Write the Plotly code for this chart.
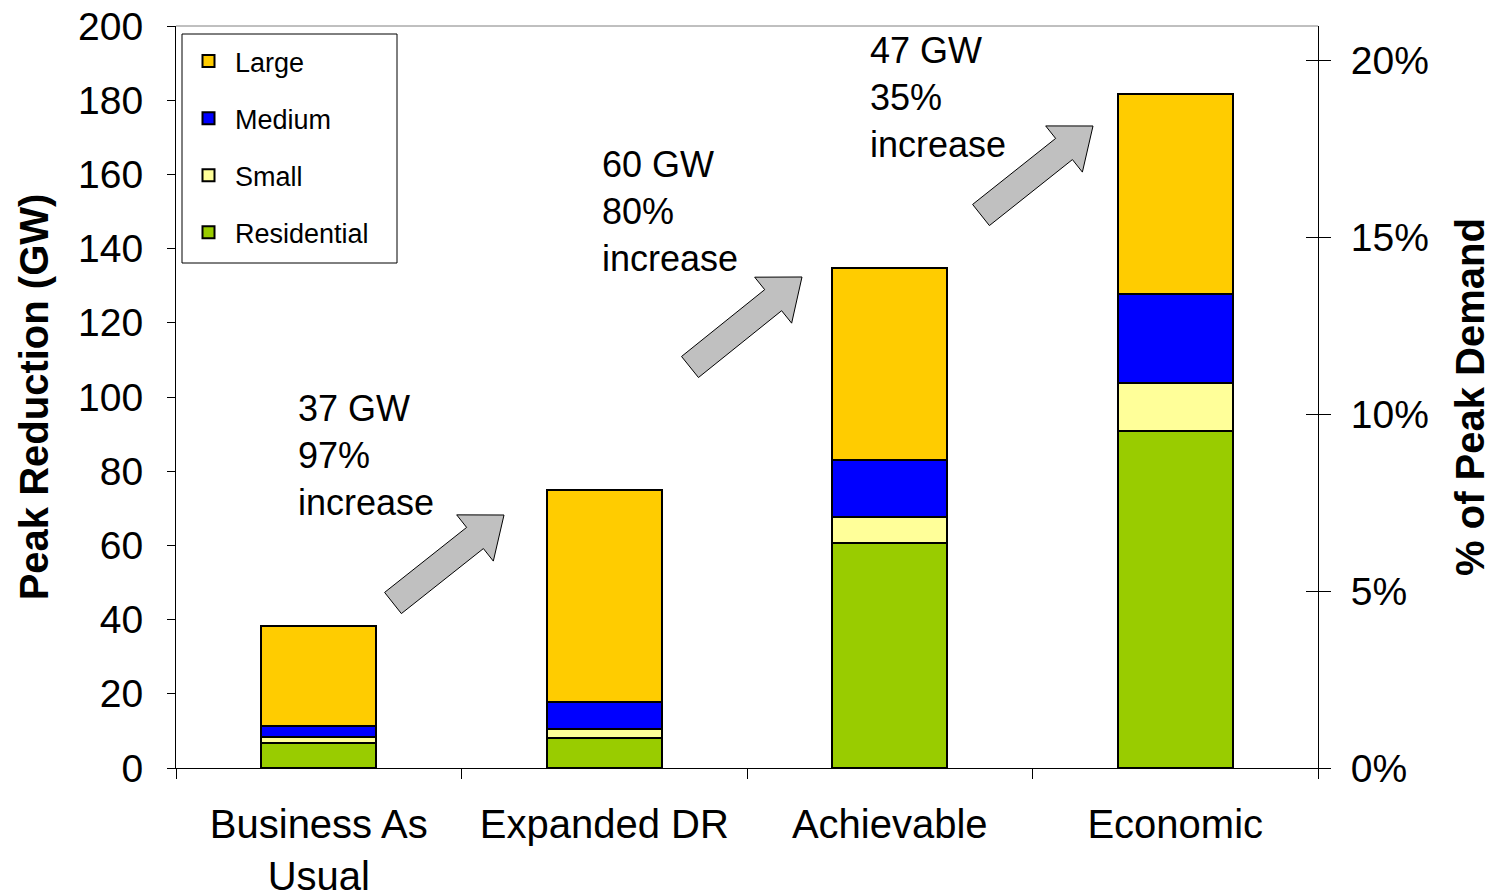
import math
import plotly.graph_objects as go

# Demand-response scenarios and their peak reduction (GW) by customer class
scenarios = ["Business As<br>Usual", "Expanded DR", "Achievable", "Economic"]
residential = [6.7, 8.0, 60.6, 90.8]
small = [1.7, 2.5, 7.1, 13.0]
medium = [2.9, 7.3, 15.3, 24.0]
large = [27.0, 57.1, 51.8, 53.9]

# Step annotations between successive scenarios
step_labels = ["37 GW<br>97%<br>increase", "60 GW<br>80%<br>increase", "47 GW<br>35%<br>increase"]

# National peak demand used for the secondary (%) axis
peak_demand_gw = 954.0
gw_max = 200
pct_ticks = [0, 5, 10, 15, 20]
pct_labels = ["0%", "5%", "10%", "15%", "20%"]

colors = {
    "Residential": "#99CC00",
    "Small": "#FFFF99",
    "Medium": "#0000FF",
    "Large": "#FFCC00",
}
# legend lists the largest class first
legend_rank = {"Large": 1, "Medium": 2, "Small": 3, "Residential": 4}

W, H = 1495, 894
L, R, T, B = 176, 1318, 26, 768  # plot area in pixels


def to_paper(px, py):
    return (px - L) / (R - L), (B - py) / (B - T)


def block_arrow(tail, tip, shaft_w=27, head_w=59, head_len=37):
    tx, ty = tail
    hx, hy = tip
    dx, dy = hx - tx, hy - ty
    n = math.hypot(dx, dy)
    ux, uy = dx / n, dy / n
    nx, ny = -uy, ux
    bx, by = hx - ux * head_len, hy - uy * head_len
    pts = [
        (tx + nx * shaft_w / 2, ty + ny * shaft_w / 2),
        (bx + nx * shaft_w / 2, by + ny * shaft_w / 2),
        (bx + nx * head_w / 2, by + ny * head_w / 2),
        (hx, hy),
        (bx - nx * head_w / 2, by - ny * head_w / 2),
        (bx - nx * shaft_w / 2, by - ny * shaft_w / 2),
        (tx - nx * shaft_w / 2, ty - ny * shaft_w / 2),
    ]
    pp = [to_paper(x, y) for x, y in pts]
    path = "M " + " L ".join(f"{x:.5f},{y:.5f}" for x, y in pp) + " Z"
    return dict(type="path", xref="paper", yref="paper", path=path,
                fillcolor="#C0C0C0", line=dict(color="black", width=1), layer="above")


fig = go.Figure()
for name, vals in [("Residential", residential), ("Small", small),
                   ("Medium", medium), ("Large", large)]:
    fig.add_trace(go.Bar(
        x=scenarios, y=vals, name=name, legendgroup=name,
        legendrank=legend_rank[name],
        marker=dict(color=colors[name], line=dict(color="black", width=2)),
    ))

# carriers for the right-hand percentage axes
for ax in ("y2", "y3"):
    fig.add_trace(go.Scatter(x=[scenarios[0]], y=[None], yaxis=ax, mode="markers",
                             showlegend=False, hoverinfo="skip"))

font_family = "Liberation Sans, Arial, sans-serif"
pct_max = gw_max / peak_demand_gw * 100

fig.update_layout(
    width=W, height=H, autosize=False,
    barmode="stack", bargap=0.597,
    plot_bgcolor="white", paper_bgcolor="white",
    margin=dict(l=L, r=W - R, t=T, b=H - B, pad=0, autoexpand=False),
    font=dict(family=font_family, color="black", size=39),
    xaxis=dict(
        automargin=False,
        showline=True, linecolor="black", linewidth=1,
        ticks="outside", ticklen=10, tickcolor="black", tickson="boundaries",
        tickfont=dict(size=40), ticklabelstandoff=21,
    ),
    yaxis=dict(
        automargin=False,
        range=[0, gw_max], dtick=20, showgrid=False, zeroline=False,
        showline=True, linecolor="black", linewidth=1,
        ticks="outside", ticklen=8, tickcolor="black",
        tickfont=dict(size=39), ticklabelstandoff=16,
        title=dict(text="<b>Peak Reduction (GW)</b>", font=dict(size=40), standoff=17),
    ),
    yaxis2=dict(
        automargin=False,
        overlaying="y", side="right", range=[0, pct_max],
        tickmode="array", tickvals=pct_ticks, ticktext=pct_labels,
        showgrid=False, zeroline=False,
        showline=True, linecolor="black", linewidth=1,
        ticks="outside", ticklen=12, tickcolor="black",
        tickfont=dict(size=39), ticklabelstandoff=12,
        title=dict(text="<b>% of Peak Demand</b>", font=dict(size=40), standoff=28),
    ),
    yaxis3=dict(
        automargin=False,
        overlaying="y", side="right", range=[0, pct_max],
        tickmode="array", tickvals=pct_ticks, showticklabels=False, showgrid=False,
        zeroline=False, showline=False,
        ticks="inside", ticklen=12, tickcolor="black",
    ),
    legend=dict(
        x=to_paper(182, 0)[0], y=to_paper(0, 37)[1], xanchor="left", yanchor="top",
        borderwidth=0, bgcolor="rgba(0,0,0,0)",
        font=dict(size=27), traceorder="grouped", tracegroupgap=19,
        itemwidth=43,
    ),
    showlegend=True,
)

lx0, ly0 = to_paper(182, 263)
lx1, ly1 = to_paper(397, 34)
shapes = [
    # top border of the plot frame
    dict(type="line", xref="paper", yref="paper", x0=0, x1=1, y0=1, y1=1,
         line=dict(color="#808080", width=1)),
    # legend frame
    dict(type="rect", xref="paper", yref="paper", x0=lx0, x1=lx1, y0=ly0, y1=ly1,
         fillcolor="white", line=dict(color="black", width=1), layer="above"),
    block_arrow((393, 603), (504, 515)),
    block_arrow((690, 367), (802, 277)),
    block_arrow((981, 215), (1093, 126)),
]
fig.update_layout(shapes=shapes)

label_pos = [(296, 386), (600, 142), (868, 28)]
for text, (px, py) in zip(step_labels, label_pos):
    x, y = to_paper(px, py)
    fig.add_annotation(x=x, y=y, xref="paper", yref="paper", text=text,
                       showarrow=False, xanchor="left", yanchor="top", align="left",
                       font=dict(size=36))

fig.write_html("out.html")
